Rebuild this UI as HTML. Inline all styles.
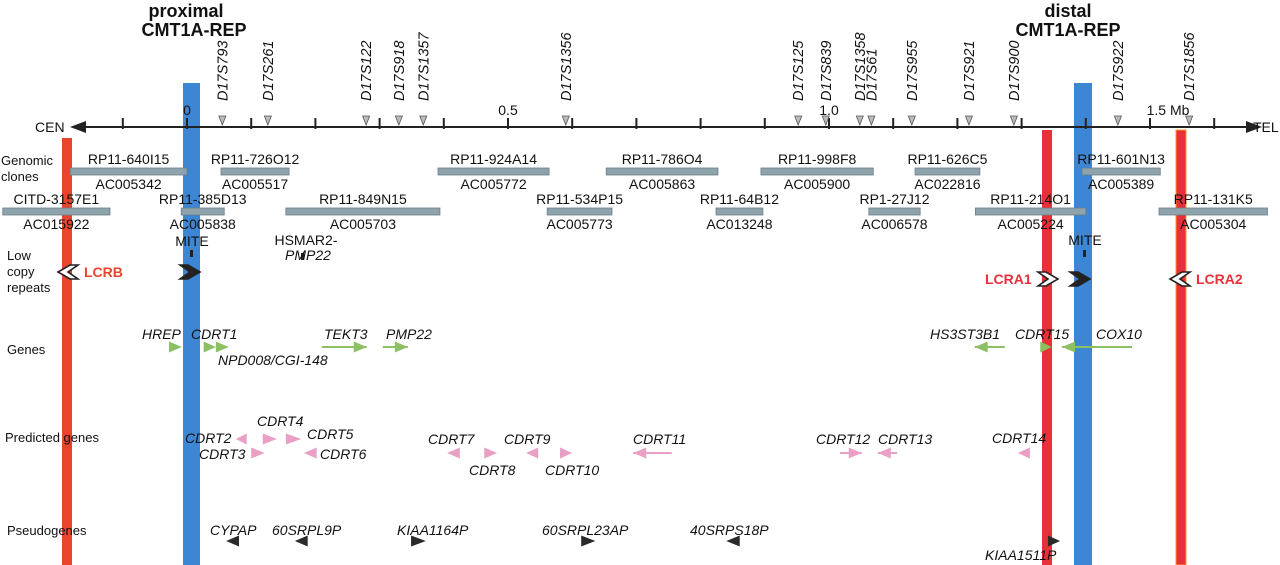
<!DOCTYPE html>
<html><head><meta charset="utf-8"><style>
html,body{margin:0;padding:0;background:#fff;}
svg{display:block;font-family:"Liberation Sans",Arial,sans-serif;}
</style></head><body>
<svg id="map" width="1280" height="565" viewBox="0 0 1280 565">
<g id="bands"></g>
<g id="axis"></g>
<g id="clones"></g>
<g id="feat"></g>
<g id="labels" font-size="13" fill="#111"></g>
</svg>
<script>
// ---- data (positions in Mb) ----
const tickVals=[-0.1,0,0.1,0.2,0.3,0.4,0.5,0.6,0.7,0.8,0.9,1.0,1.1,1.2,1.3,1.4,1.5,1.6];
const tickLabels=[["0",0],["0.5",0.5],["1.0",1.0],["1.5 Mb",1.5]];
const markerNames=["D17S793","D17S261","D17S122","D17S918","D17S1357","D17S1356","D17S125","D17S839","D17S1358","D17S61","D17S955","D17S921","D17S900","D17S922","D17S1856"];
const markerPos=[0.055,0.126,0.279,0.330,0.368,0.590,0.952,0.995,1.048,1.066,1.129,1.218,1.288,1.450,1.561];
const clone1Names=["RP11-640I15","RP11-726O12","RP11-924A14","RP11-786O4","RP11-998F8","RP11-626C5","RP11-601N13"];
const clone1Acc=["AC005342","AC005517","AC005772","AC005863","AC005900","AC022816","AC005389"];
const clone1Start=[-0.182,0.053,0.391,0.653,0.894,1.134,1.394];
const clone1End=[0,0.159,0.564,0.827,1.069,1.235,1.516];
const clone2Names=["CITD-3157E1","RP11-385D13","RP11-849N15","RP11-534P15","RP11-64B12","RP1-27J12","RP11-214O1","RP11-131K5"];
const clone2Acc=["AC015922","AC005838","AC005703","AC005773","AC013248","AC006578","AC005224","AC005304"];
const clone2Start=[-0.287,-0.009,0.154,0.561,0.824,1.062,1.228,1.514];
const clone2End=[-0.120,0.058,0.394,0.662,0.897,1.142,1.400,1.683];
const geneStart=[-0.028,0.026,0.045,0.210,0.305,1.227,1.329,1.363];
const geneEnd=[-0.008,0.045,0.065,0.280,0.344,1.274,1.347,1.472];
const geneDir=[1,1,1,1,1,-1,1,-1];
const predStart=[0.076,0.118,0.154,0.100,0.182,0.405,0.463,0.528,0.581,0.695,1.017,1.076,1.294];
const predEnd=[0.093,0.140,0.178,0.121,0.202,0.425,0.483,0.547,0.600,0.755,1.051,1.106,1.313];
const predDir=[-1,1,1,1,-1,-1,1,-1,1,-1,1,-1,-1];
const predRow=[0,0,0,1,1,1,1,1,1,1,1,1,1];
const pseudoStart=[0.061,0.168,0.349,0.614,0.840,1.341];
const pseudoEnd=[0.081,0.188,0.372,0.636,0.861,1.360];
const pseudoDir=[-1,-1,1,1,-1,1];

const X=mb=>187+642*mb;
const NS="http://www.w3.org/2000/svg";
function mk(parent,tag,attrs,txt){const e=document.createElementNS(NS,tag);for(const k in attrs)e.setAttribute(k,attrs[k]);if(txt!==undefined)e.textContent=txt;document.getElementById(parent).appendChild(e);return e;}

// bands
let b;
b=mk('bands','rect',{x:62,y:138,width:10,height:427,fill:'#e8452c'});

b=mk('bands','rect',{x:183,y:83,width:17,height:482,fill:'#3d86d4'});

b=mk('bands','rect',{x:1042,y:130,width:10,height:435,fill:'#e8303a'});

b=mk('bands','rect',{x:1074,y:83,width:18,height:482,fill:'#3d86d4'});

b=mk('bands','rect',{x:1176,y:130,width:10,height:435,fill:'#e8303a',stroke:'#f0a020','stroke-width':1});


// axis
let a=mk('axis','line',{x1:80,y1:127,x2:1250,y2:127,stroke:'#222','stroke-width':2});

a=mk('axis','path',{d:'M70 127 L86 121 L86 133 Z',fill:'#222'});

a=mk('axis','path',{d:'M1262 127 L1246 121 L1246 133 Z',fill:'#222'});

tickVals.forEach(v=>{const t=mk('axis','line',{x1:X(v),y1:118,x2:X(v),y2:129,stroke:'#222','stroke-width':2});
});
tickLabels.forEach(([s,v])=>{const t=mk('labels','text',{x:X(v)+(s.length>3?18:0),y:115,'text-anchor':'middle','font-size':14},s);
});
markerPos.forEach((p,i)=>{const x=X(p);
const m=mk('axis','path',{d:`M${x-3.5} 116 L${x} 125 L${x+3.5} 116 Z`,fill:'#bbb',stroke:'#555','stroke-width':0.8});

const t=mk('labels','text',{x:x+5,y:101,'font-style':'italic','font-size':14.5,transform:`rotate(-90 ${x+5} 101)`},markerNames[i]);
});

// clones
function clones(names,acc,s,e,y){names.forEach((n,i)=>{const x1=X(s[i]),x2=X(e[i]);
const r=mk('clones','rect',{x:x1,y:y,width:x2-x1,height:7,fill:'#8fa3ad',stroke:'#6a7e88','stroke-width':0.8});

const c=(x1+x2)/2;
const t=mk('labels','text',{x:c,y:y-4,'text-anchor':'middle','font-size':14},n);

const t2=mk('labels','text',{x:c,y:y+21,'text-anchor':'middle','font-size':14},acc[i]);
});}
clones(clone1Names,clone1Acc,clone1Start,clone1End,168);
clones(clone2Names,clone2Acc,clone2Start,clone2End,208);

// arrows
function arrow(s,e,dir,y,col,name){const x1=X(s),x2=X(e);const len=x2-x1;const h=5.5;
let d;if(len<=17){d=dir>0?`M${x1} ${y-h} L${x2} ${y} L${x1} ${y+h} Z`:`M${x2} ${y-h} L${x1} ${y} L${x2} ${y+h} Z`;
const p=mk('feat','path',{d:d,fill:col});}
else{const l=mk('feat','line',{x1:x1,y1:y,x2:x2,y2:y,stroke:col,'stroke-width':2});
d=dir>0?`M${x2-13} ${y-h} L${x2} ${y} L${x2-13} ${y+h} Z`:`M${x1+13} ${y-h} L${x1} ${y} L${x1+13} ${y+h} Z`;
const p=mk('feat','path',{d:d,fill:col});}}
geneStart.forEach((s,i)=>arrow(s,geneEnd[i],geneDir[i],347,'#8cc063','gene-arrow'));
predStart.forEach((s,i)=>arrow(s,predEnd[i],predDir[i],predRow[i]?453:439,'#e9a0c4','predicted-gene-arrow'));
pseudoStart.forEach((s,i)=>arrow(s,pseudoEnd[i],pseudoDir[i],541,'#2a2a2a','pseudogene-arrow'));

// LCR chevrons
function chev(x,y,dir,fill,name){const w=20,h=7;let d=dir>0?`M${x} ${y-h} L${x+8} ${y-h} L${x+w} ${y} L${x+8} ${y+h} L${x} ${y+h} L${x+10} ${y} Z`:`M${x+w} ${y-h} L${x+w-8} ${y-h} L${x} ${y} L${x+w-8} ${y+h} L${x+w} ${y+h} L${x+w-10} ${y} Z`;
const p=mk('feat','path',{d:d,fill:fill,stroke:'#222','stroke-width':1.6});}
chev(58,272,-1,'#fff','lcrb-chevron');
chev(180,272,1,'#222','proximal-rep-arrow');
chev(1038,279,1,'#fff','lcra1-chevron');
chev(1070,279,1,'#222','distal-rep-arrow');
chev(1170,279,-1,'#fff','lcra2-chevron');
[[190,250],[301,253],[1083,250]].forEach(([x,y])=>{const r=mk('feat','rect',{x:x,y:y,width:3,height:7,fill:'#222'});});
</script>
<svg width="1280" height="565" style="position:absolute;left:0;top:0;font-family:'Liberation Sans',Arial,sans-serif">
<g font-size="14" fill="#111">
<text x="186" y="17" text-anchor="middle" font-weight="bold" font-size="18">proximal</text>
<text x="194" y="36" text-anchor="middle" font-weight="bold" font-size="18">CMT1A-REP</text>
<text x="1068" y="17" text-anchor="middle" font-weight="bold" font-size="18">distal</text>
<text x="1068" y="36" text-anchor="middle" font-weight="bold" font-size="18">CMT1A-REP</text>
<text x="35" y="132">CEN</text>
<text x="1253" y="132">TEL</text>
<text x="1" y="165" font-size="13">Genomic</text>
<text x="1" y="181" font-size="13">clones</text>
<text x="7" y="260" font-size="13">Low</text>
<text x="7" y="276" font-size="13">copy</text>
<text x="7" y="292" font-size="13">repeats</text>
<text x="7" y="354" font-size="13">Genes</text>
<text x="5" y="442" font-size="13">Predicted genes</text>
<text x="7" y="535" font-size="13">Pseudogenes</text>
<text x="192" y="246" text-anchor="middle">MITE</text>
<text x="1085" y="245" text-anchor="middle">MITE</text>
<text x="306" y="245" text-anchor="middle">HSMAR2-</text>
<text x="308" y="260" text-anchor="middle" font-style="italic">PMP22</text>
<text x="84" y="277" fill="#e8452c" font-weight="bold">LCRB</text>
<text x="985" y="284" fill="#e8303a" font-weight="bold">LCRA1</text>
<text x="1196" y="284" fill="#e8303a" font-weight="bold">LCRA2</text>
<g font-style="italic">
<text x="142" y="339">HREP</text>
<text x="191" y="339">CDRT1</text>
<text x="218" y="365">NPD008/CGI-148</text>
<text x="324" y="339">TEKT3</text>
<text x="386" y="339">PMP22</text>
<text x="930" y="339">HS3ST3B1</text>
<text x="1015" y="339">CDRT15</text>
<text x="1096" y="339">COX10</text>
<text x="185" y="443">CDRT2</text>
<text x="257" y="426">CDRT4</text>
<text x="307" y="439">CDRT5</text>
<text x="199" y="459">CDRT3</text>
<text x="320" y="459">CDRT6</text>
<text x="428" y="444">CDRT7</text>
<text x="504" y="444">CDRT9</text>
<text x="469" y="475">CDRT8</text>
<text x="545" y="475">CDRT10</text>
<text x="633" y="444">CDRT11</text>
<text x="816" y="444">CDRT12</text>
<text x="878" y="444">CDRT13</text>
<text x="992" y="443">CDRT14</text>
<text x="210" y="535">CYPAP</text>
<text x="272" y="535">60SRPL9P</text>
<text x="397" y="535">KIAA1164P</text>
<text x="542" y="535">60SRPL23AP</text>
<text x="690" y="535">40SRPS18P</text>
<text x="985" y="560">KIAA1511P</text>
</g></g></svg>
</body></html>
